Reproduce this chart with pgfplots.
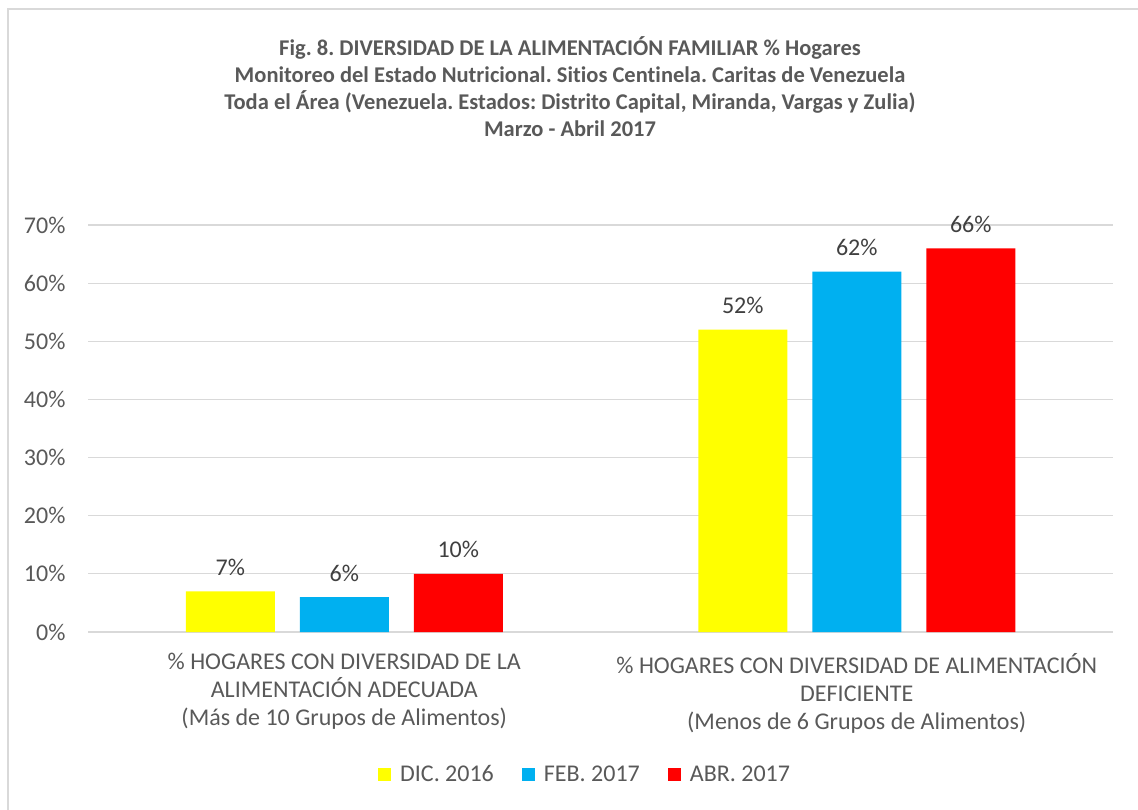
\documentclass[border=0pt]{standalone}
\usepackage{pgfplots}
\pgfplotsset{compat=1.18}
\usepackage{fontspec}
\setmainfont{Carlito}[Ligatures=NoCommon]
\definecolor{cyel}{HTML}{FFFF00}
\definecolor{cblu}{HTML}{00B0F0}
\definecolor{cred}{HTML}{FF0000}
\definecolor{gridg}{HTML}{D9D9D9}
\definecolor{txtg}{HTML}{595959}
\definecolor{lblg}{HTML}{404040}
\begin{document}
\frenchspacing
\begin{tikzpicture}[x=1pt,y=1pt]
\useasboundingbox (0,0) rectangle (1138,809);
\draw[color=gridg, line width=1.5pt] (8,-30) rectangle (1170,800);
\node[font=\fontsize{22.5}{27}\selectfont\bfseries, text=txtg, align=center] at (570,722.5)
{Fig. 8. DIVERSIDAD DE LA ALIMENTACIÓN FAMILIAR \% Hogares\\
Monitoreo del Estado Nutricional. Sitios Centinela. Caritas de Venezuela\\
Toda el Área (Venezuela. Estados: Distrito Capital, Miranda, Vargas y Zulia)\\
Marzo - Abril 2017};
\begin{axis}[
  at={(88pt,177pt)}, anchor=south west,
  scale only axis, width=1025pt, height=407pt,
  xmin=-0.5, xmax=1.5, ymin=0, ymax=70,
  ytick={0,10,...,70},
  yticklabel={\pgfmathprintnumber{\tick}\%},
  xtick={0,1},
  xticklabels={{\% HOGARES CON DIVERSIDAD DE LA\\ALIMENTACIÓN ADECUADA\\(Más de 10 Grupos de Alimentos)},
               {\% HOGARES CON DIVERSIDAD DE ALIMENTACIÓN\\DEFICIENTE\\(Menos de 6 Grupos de Alimentos)}},
  xticklabel style={align=center, font=\fontsize{24}{28}\selectfont, text=txtg, yshift=-18pt},
  yticklabel style={font=\fontsize{24}{28}\selectfont, text=txtg, xshift=-19pt},
  /pgf/number format/assume math mode=true,
  ymajorgrids, grid style={color=gridg, line width=1.2pt},
  axis x line*=bottom, axis y line*=left,
  y axis line style={draw=none},
  x axis line style={color=gridg, line width=1.2pt},
  tick style={draw=none},
  major tick length=0pt,
  ybar, bar width=89pt,
  nodes near coords={\pgfmathprintnumber{\pgfplotspointmeta}\%},
  every node near coord/.append style={font=\fontsize{24}{28}\selectfont, text=lblg, anchor=center, yshift=24pt},
  legend style={at={(0.485,-0.349)}, anchor=center, draw=none, legend columns=3,
    font=\fontsize{24}{28}\selectfont, text=txtg,
    /tikz/every odd column/.append style={column sep=7pt},
    /tikz/every even column/.append style={column sep=26pt}},
  legend image code/.code={\fill[#1] (0pt,-6.5pt) rectangle (13pt,6.5pt);},
]
\addplot[fill=cyel, draw=none, bar shift=-114pt] coordinates {(0,7) (1,52)};
\addplot[fill=cblu, draw=none, bar shift=0pt] coordinates {(0,6) (1,62)};
\addplot[fill=cred, draw=none, bar shift=114pt] coordinates {(0,10) (1,66)};
\legend{DIC. 2016, FEB. 2017, ABR. 2017}
\end{axis}
\end{tikzpicture}
\end{document}
